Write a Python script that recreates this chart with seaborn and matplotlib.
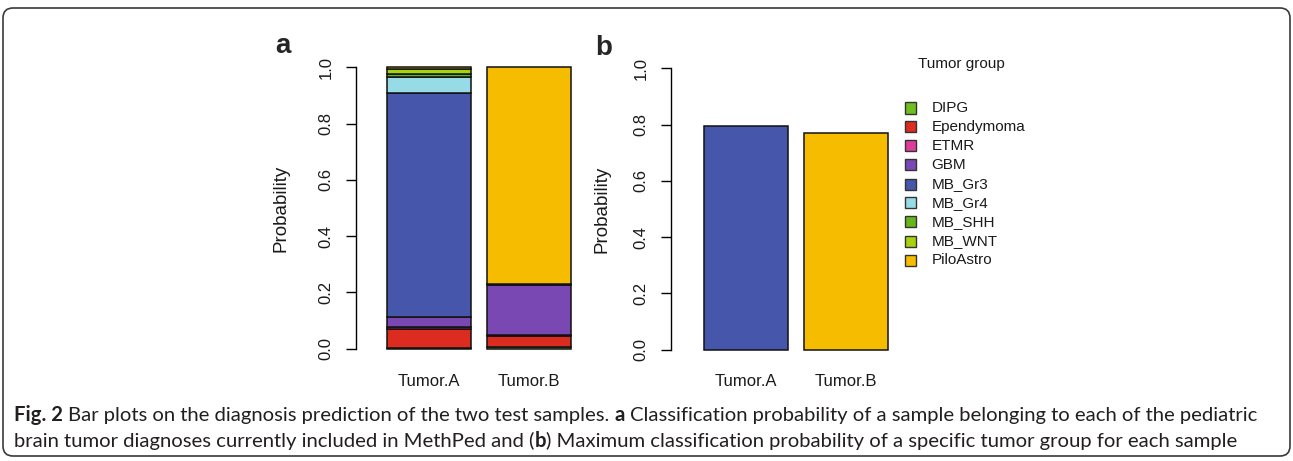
import numpy as np
import pandas as pd
import seaborn as sns
from matplotlib import pyplot as plt
from matplotlib.patches import FancyBboxPatch, Rectangle

samples = ["Tumor.A", "Tumor.B"]
groups = ["DIPG", "Ependymoma", "ETMR", "GBM", "MB_Gr3",
          "MB_Gr4", "MB_SHH", "MB_WNT", "PiloAstro"]
group_colors = ["#6fbd1e", "#dc2b1f", "#dd3e9c", "#7a48b2", "#4556ab",
                "#97dbe6", "#66b51b", "#a6d20f", "#f6bd00"]

# class probabilities per sample
prob_tumor_a = [0.002, 0.067, 0.006, 0.037, 0.797, 0.058, 0.009, 0.018, 0.006]
prob_tumor_b = [0.005, 0.040, 0.002, 0.180, 0.001, 0.001, 0.000, 0.000, 0.771]

# panel b: best group per sample
max_prob = [0.797, 0.771]
max_group = ["MB_Gr3", "PiloAstro"]

caption_1 = [("Fig. 2", True),
             (" Bar plots on the diagnosis prediction of the two test samples. ", False),
             ("a", True),
             (" Classification probability of a sample belonging to each of the pediatric", False)]
caption_2 = [("brain tumor diagnoses currently included in MethPed and (", False),
             ("b", True),
             (") Maximum classification probability of a specific tumor group for each sample", False)]

sns.set_style("white")
plt.rcParams["font.family"] = ["Liberation Sans", "DejaVu Sans"]

W, H = 1293, 461
fig = plt.figure(figsize=(W / 100, H / 100), dpi=100)
color_of = dict(zip(groups, group_colors))


def style_axis(ax, left_px, label_x):
    ax.set_ylim(0, 1)
    ax.set_xlim(-(left_px), 1.5)
    for side in ["top", "right", "bottom"]:
        ax.spines[side].set_visible(False)
    ax.spines["left"].set_bounds(0, 1)
    ax.spines["left"].set_color("black")
    ax.spines["left"].set_linewidth(1)
    ticks = np.arange(0, 1.01, 0.2)
    ax.set_yticks(ticks)
    ax.set_yticklabels([f"{t:.1f}" for t in ticks], rotation=90, va="center")
    ax.tick_params(axis="y", left=True, length=7, width=1, color="black",
                   pad=9, labelsize=12, labelcolor="#1a1a1a")
    ax.tick_params(axis="x", length=0, pad=18, labelsize=12, labelcolor="#1a1a1a")
    ax.set_xlabel("")
    ax.set_ylabel("Probability", fontsize=13.5, color="#1a1a1a")
    ax.yaxis.set_label_coords(label_x, 0.5)
    ax.set_facecolor("none")


# panel a: stacked probabilities
ax_a = fig.add_axes([356 / W, 1 - 348.5 / H, 223 / W, 281 / H])
bottom = np.zeros(len(samples))
for grp, col, pa, pb in zip(groups, group_colors, prob_tumor_a, prob_tumor_b):
    vals = np.array([pa, pb])
    sns.barplot(x=samples, y=vals, bottom=bottom, color=col, saturation=1,
                width=0.84, edgecolor="#111111", linewidth=1.1, errorbar=None,
                clip_on=False, ax=ax_a)
    bottom = bottom + vals
style_axis(ax_a, 0.73, -0.296)

# panel b: maximum probability
ax_b = fig.add_axes([670.7 / W, 1 - 349.5 / H, 225.6 / W, 281 / H])
df_b = pd.DataFrame({"sample": samples, "prob": max_prob, "group": max_group})
sns.barplot(data=df_b, x="sample", y="prob", hue="group",
            palette=[color_of[g] for g in max_group], saturation=1, width=0.84,
            dodge=False, legend=False, edgecolor="#111111", linewidth=1.1,
            errorbar=None, clip_on=False, ax=ax_b)
style_axis(ax_b, 0.756, -0.269)

fig.text(283 / W, 1 - 53 / H, "a", fontsize=20, fontweight="bold", ha="center", va="baseline")
fig.text(604 / W, 1 - 55 / H, "b", fontsize=20, fontweight="bold", ha="center", va="baseline")

# legend drawn by hand to match the R layout
fig.text(918 / W, 1 - 64 / H, "Tumor group", fontsize=11, ha="left", va="center", color="#1a1a1a")
for i, (grp, col) in enumerate(zip(groups, group_colors)):
    yc = 108 + 19 * i
    fig.add_artist(Rectangle((905 / W, 1 - (yc + 5.5) / H), 11 / W, 11 / H,
                             transform=fig.transFigure, facecolor=col,
                             edgecolor="#333333", linewidth=1))
    fig.text(931.7 / W, 1 - yc / H, grp, fontsize=11, ha="left", va="center", color="#1a1a1a")

# caption with bold pieces placed one after another
renderer = fig.canvas.get_renderer()
cap_kw = dict(fontsize=14.6, family=["Lato", "DejaVu Sans"], color="#231f20",
              va="baseline", ha="left")


def text_width(s, bold):
    t = fig.text(0, 0, s, fontweight="bold" if bold else "normal", **cap_kw)
    w = t.get_window_extent(renderer=renderer).width
    t.remove()
    return w


space_w = text_width("x x", False) - text_width("xx", False)


def put_line(pieces, x_px, y_px):
    for txt, bold in pieces:
        lead = len(txt) - len(txt.lstrip(" "))
        trail = len(txt) - len(txt.rstrip(" "))
        x_px += lead * space_w
        core = txt.strip(" ")
        t = fig.text(x_px / W, 1 - y_px / H, core,
                     fontweight="bold" if bold else "normal", **cap_kw)
        x_px += t.get_window_extent(renderer=renderer).width + trail * space_w


put_line(caption_1, 14, 421)
put_line(caption_2, 14, 447)

# rounded frame around the whole figure
fig.add_artist(FancyBboxPatch((0.03, 0.05), 12.87, 4.48,
                              boxstyle="round,pad=0,rounding_size=0.1",
                              transform=fig.dpi_scale_trans, fill=False,
                              edgecolor="#3a3a3a", linewidth=1.2))

fig.savefig("out.png", dpi=100)
